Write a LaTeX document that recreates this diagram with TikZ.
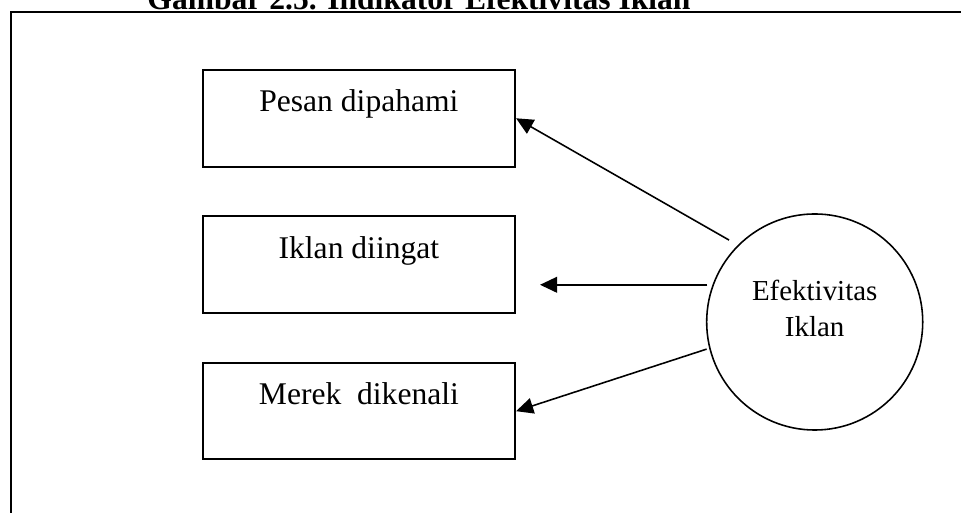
\documentclass[tikz,border=0pt]{standalone}
\usepackage{fontspec}
\setmainfont{Liberation Serif}
\usetikzlibrary{arrows.meta,positioning}

\begin{document}
\begin{tikzpicture}[
    x=0.38pt, y=-0.38pt,
    >={Triangle[length=6.5pt,width=6pt]},
    kotak/.style={rectangle, draw, line width=0.75pt, minimum width=118.7pt, inner sep=4pt, text height=11.8pt, text depth=16.9pt, font=\fontsize{12}{14.4}\selectfont},
    lingkaran/.style={circle, draw, line width=0.6pt, minimum size=82.1pt, inner sep=0pt},
    panah/.style={->, line width=0.6pt},
    node distance=18.2pt
]

\useasboundingbox (0,0) rectangle (961,513);

\node[anchor=base, font=\fontsize{12}{14.4}\selectfont\bfseries] (judul) at (419,9.5) {Gambar 2.5. Indikator Efektivitas Iklan};
\draw[line width=0.8pt] (11,513) -- (11,12) -- (961,12);

\node[kotak] (pesan) at (358.9,118.3) {Pesan dipahami};
\node[kotak, below=of pesan] (iklan) {Iklan diingat};
\node[kotak, below=of iklan] (merek) {Merek\ \ dikenali};

\node[lingkaran] (eff) at (814.7,322) {};
\node[align=center, inner sep=0pt, font=\fontsize{11}{13.7}\selectfont] (efektxt) at (814.7,308.4) {Efektivitas\\Iklan};

\coordinate (ujung) at ([xshift=9.1pt]iklan.east);
\draw[panah, shorten <=3.8pt] (eff.135) -- (pesan.east);
\draw[panah, shorten <=1.9pt] (eff.160) -- (eff.160 -| ujung);
\draw[panah, shorten <=1pt] (eff.194) -- (merek.east);

\end{tikzpicture}
\end{document}
